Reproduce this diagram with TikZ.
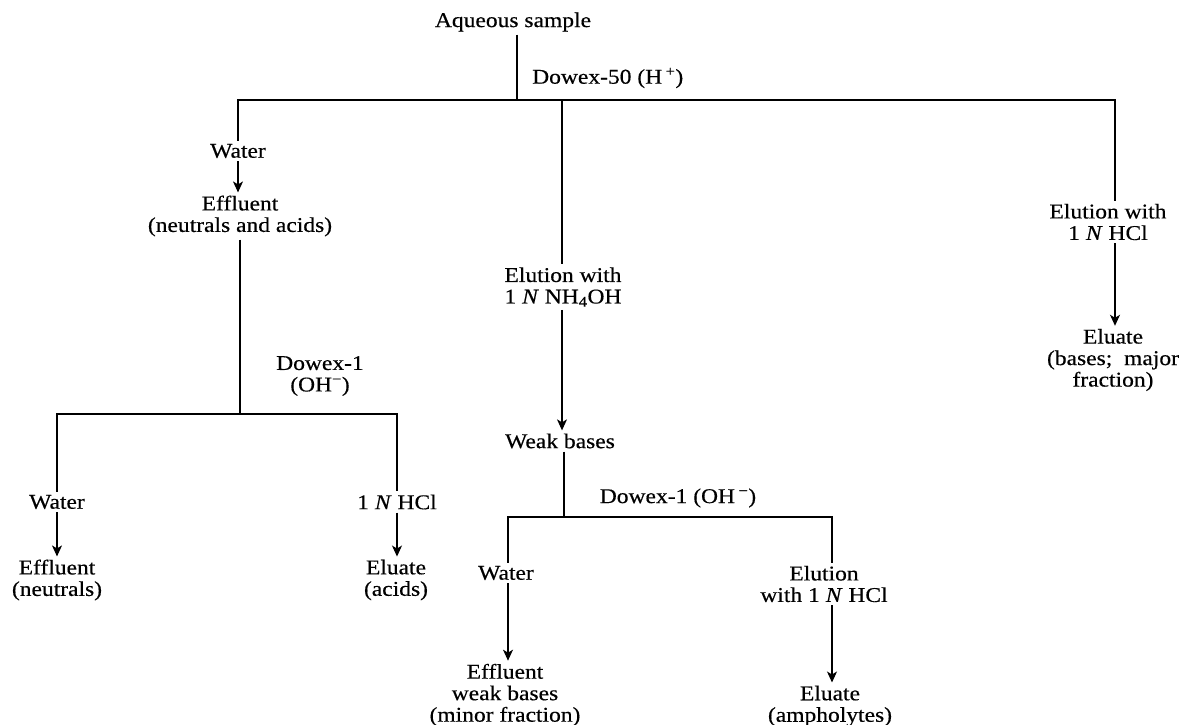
\documentclass[tikz,border=0pt]{standalone}
\usepackage{fontspec}
\setmainfont{Liberation Serif}[FakeStretch=1.12,FakeBold=0.4]
\usetikzlibrary{arrows.meta}
\begin{document}
\begin{tikzpicture}[x=1pt,y=-1pt,
  every node/.style={font=\fontsize{21}{21.5}\selectfont, align=center, inner sep=3pt},
  link/.style={line width=1.1pt},
  arr/.style={link,-{Stealth[length=11pt,width=10pt,inset=3pt]}}]
\useasboundingbox (0,0) rectangle (1179,725);
% nodes
\node (aq) at (513,22) {Aqueous sample};
\coordinate (j0) at (517,100);
\node[anchor=west] (dw50) at (529,78) {Dowex-50 (H\,\textsuperscript{+})};
\node (w1) at (238,151) {Water};
\node (eff1) at (240,216) {Effluent\\(neutrals and acids)};
\node (el1) at (563,287) {Elution with\\1 \textit{N} NH\textsubscript{4}OH};
\node (el4) at (1108,222) {Elution with\\1 \textit{N} HCl};
\node (elu4) at (1113,360) {Eluate\\(bases;\ \ major\\fraction)};
\node (dw1a) at (320,376) {Dowex-1\\(OH\textsuperscript{−})};
\coordinate (j1) at (240,414);
\node (w2) at (57,502) {Water};
\node (hcl2) at (397,502) {1 \textit{N} HCl};
\node (eff2) at (57,580) {Effluent\\(neutrals)};
\node (elu2) at (396,580) {Eluate\\(acids)};
\node (wb) at (560,441) {Weak bases};
\coordinate (j2) at (564,517);
\node (dw1b) at (678,498) {Dowex-1 (OH\,\textsuperscript{−})};
\node (w3) at (506,573) {Water};
\node (el3) at (824,584) {Elution\\with 1 \textit{N} HCl};
\node (eff3) at (505,695) {Effluent\\weak bases\\(minor fraction)};
\node (elu3) at (830,706) {Eluate\\(ampholytes)};
% junction coordinates
\coordinate (b1) at (238,100);
\coordinate (b2) at (562,100);
\coordinate (b3) at (1115,100);
\coordinate (c1) at (57,414);
\coordinate (c2) at (397,414);
\coordinate (d1) at (508,517);
\coordinate (d2) at (832,517);
% connectors
\draw[link] (aq.south -| j0) -- (j0);
\draw[link] (w1.north -| b1) |- (b3) -- (el4.north -| b3);
\draw[link] (b2) -- (el1.north -| b2);
\draw[arr] (w1.south -| b1) -- (eff1.north -| b1);
\draw[arr] (el1.south -| b2) -- (wb.north -| b2);
\draw[arr] (el4.south -| b3) -- (elu4.north -| b3);
\draw[link] (eff1.south -| j1) -- (j1);
\draw[link] (w2.north -| c1) |- (c2) -- (hcl2.north -| c2);
\draw[arr] (w2.south -| c1) -- (eff2.north -| c1);
\draw[arr] (hcl2.south -| c2) -- (elu2.north -| c2);
\draw[link] (wb.south -| j2) -- (j2);
\draw[link] (w3.north -| d1) |- (d2) -- (el3.north -| d2);
\draw[arr] (w3.south -| d1) -- (eff3.north -| d1);
\draw[arr] (el3.south -| d2) -- (elu3.north -| d2);
\end{tikzpicture}
\end{document}
